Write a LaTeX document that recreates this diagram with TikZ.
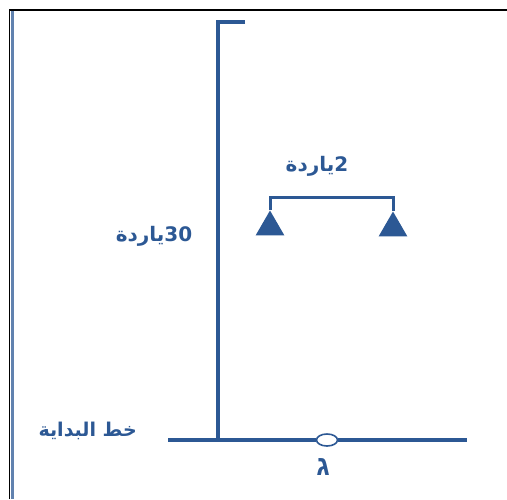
\documentclass[tikz,border=0pt]{standalone}
\usepackage{fontspec}
\setmainfont{Liberation Sans}
\newfontfamily\arabicfont[Script=Arabic]{DejaVu Sans Bold}
\newfontfamily\hebrewfont[Script=Hebrew]{Liberation Sans Bold}
\TeXXeTstate=1
\usepackage{tikz}
\usetikzlibrary{shapes.geometric}
\definecolor{fieldblue}{RGB}{44,88,148}

\begin{document}
\begin{tikzpicture}[
x=1pt, y=-1pt,
line/.style={draw=fieldblue, line width=3.6pt},
cone/.style={regular polygon, regular polygon sides=3, fill=fieldblue, inner sep=0pt, minimum size=33pt},
label/.style={text=fieldblue, font=\arabicfont\fontsize{20}{22}\selectfont, inner sep=0pt}
]
\useasboundingbox (0,0) rectangle (507,499);
% frame
\draw[fieldblue!75, line width=3pt] (12.5,11) -- (12.5,499);
\draw[black, line width=1.3pt] (9.5,499) -- (9.5,10) -- (507,10);
% lane and start line
\coordinate (hook) at (245,22);
\coordinate (top) at (218,22);
\coordinate (foot) at (218,440);
\coordinate (lineL) at (168,440);
\coordinate (lineR) at (467,440);
\node[draw=fieldblue, line width=1.6pt, fill=white, ellipse, minimum width=21pt, minimum height=12pt, inner sep=0pt] (mark) at (327,440) {};
\draw[line] (hook) -- (top) -- (foot);
\draw[line] (lineL) -- (mark);
\draw[line] (mark) -- (lineR);
% cones
\node[cone] (coneL) at (270,227) {};
\node[cone] (coneR) at (393,228) {};
\draw[draw=fieldblue, line width=3pt] (coneL.corner 1) -- ++(0,-13) -| (coneR.corner 1);
% labels
\node[label] (gap) at (317,166) {\beginR\beginL2\endL ياردة\endR};
\node[label] (lane) at (154,236) {\beginR\beginL30\endL ياردة\endR};
\node[label, anchor=east, font=\arabicfont\fontsize{19}{21}\selectfont] (start) at (137,431) {\beginR خط البداية\endR};
\node[text=fieldblue, font=\hebrewfont\fontsize{28}{30}\selectfont, inner sep=0pt] (player) at (323,467) {ג};
\end{tikzpicture}
\end{document}
